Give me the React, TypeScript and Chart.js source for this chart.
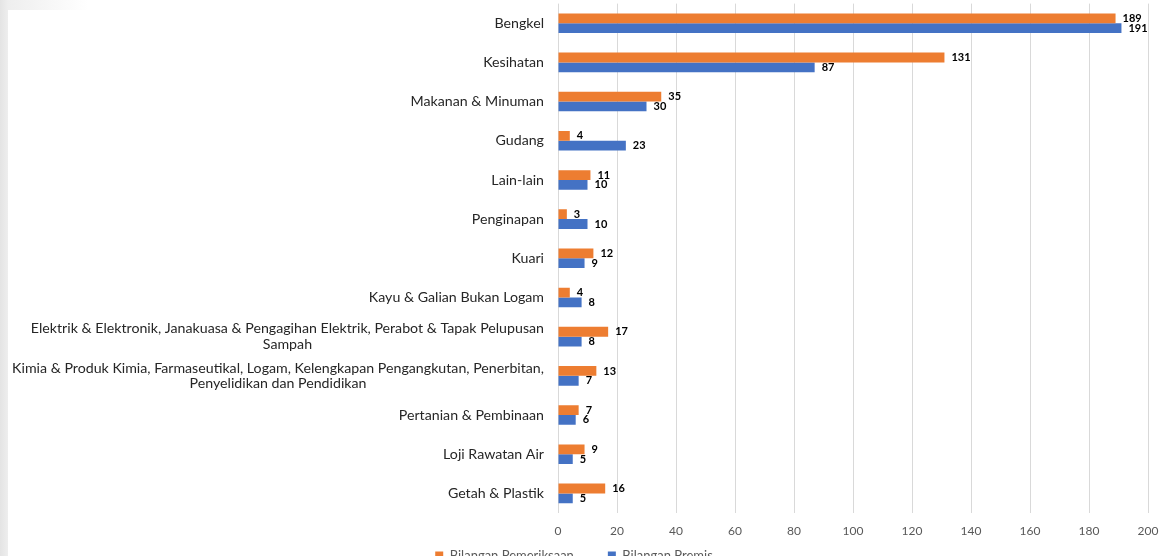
import React, { useEffect, useRef } from "react";
import { Chart, registerables } from "chart.js";

Chart.register(...registerables);

const categories: (string | string[])[] = [
  "Bengkel",
  "Kesihatan",
  "Makanan & Minuman",
  "Gudang",
  "Lain-lain",
  "Penginapan",
  "Kuari",
  "Kayu & Galian Bukan Logam",
  ["Elektrik & Elektronik, Janakuasa & Pengagihan Elektrik, Perabot & Tapak Pelupusan", "Sampah"],
  ["Kimia & Produk Kimia, Farmaseutikal, Logam, Kelengkapan Pengangkutan, Penerbitan,", "Penyelidikan dan Pendidikan"],
  "Pertanian & Pembinaan",
  "Loji Rawatan Air",
  "Getah & Plastik",
];

const pemeriksaan = [189, 131, 35, 4, 11, 3, 12, 4, 17, 13, 7, 9, 16];
const premis = [191, 87, 30, 23, 10, 10, 9, 8, 8, 7, 6, 5, 5];

const seriesNames = ["Bilangan Pemeriksaan", "Bilangan Premis"];
const seriesColors = ["#ED7D31", "#4472C4"];

const xMin = 0;
const xMax = 200;
const xStep = 20;

const FONT = "Lato, 'Open Sans', sans-serif";

const yLabelPlugin = {
  id: "yLabelPlugin",
  afterLayout(chart: any) {
    // let the bottom axis labels draw below its (deliberately short) box
    const x = chart.scales.x;
    x.bottom = x.top + 40;
    x.height = 40;
  },
  afterDraw(chart: any) {
    const scale = chart.scales.y;
    const ctx = chart.ctx;
    ctx.save();
    ctx.font = `14.2px ${FONT}`;
    ctx.fillStyle = "#262626";
    ctx.textBaseline = "middle";
    ctx.textAlign = "center";
    const right = scale.right - 14;
    const lineH = 15.5;
    categories.forEach((lab, i) => {
      const lines = Array.isArray(lab) ? lab : [lab];
      const y = scale.getPixelForTick(i);
      const maxW = Math.max(...lines.map((l) => ctx.measureText(l).width));
      const cx = right - maxW / 2;
      const y0 = y - ((lines.length - 1) * lineH) / 2;
      lines.forEach((l, k) => ctx.fillText(l, cx, y0 + k * lineH));
    });
    ctx.restore();
  },
};

const valueLabelPlugin = {
  id: "valueLabelPlugin",
  afterDatasetsDraw(chart: any) {
    const ctx = chart.ctx;
    ctx.save();
    ctx.font = `bold 11px ${FONT}`;
    ctx.fillStyle = "#000000";
    ctx.textBaseline = "middle";
    ctx.textAlign = "left";
    chart.data.datasets.forEach((ds: any, di: number) => {
      const meta = chart.getDatasetMeta(di);
      meta.data.forEach((el: any, i: number) => {
        ctx.fillText(String(ds.data[i]), el.x + 7, el.y);
      });
    });
    ctx.restore();
  },
};

export default function App() {
  const ref = useRef<HTMLCanvasElement | null>(null);
  useEffect(() => {
    if (!ref.current) return;
    const chart = new Chart(ref.current, {
      type: "bar",
      data: {
        labels: categories.map((c) => (Array.isArray(c) ? c.join(" ") : c)),
        datasets: [
          {
            label: seriesNames[0],
            data: pemeriksaan,
            backgroundColor: seriesColors[0],
            categoryPercentage: 0.5,
            barPercentage: 1,
          },
          {
            label: seriesNames[1],
            data: premis,
            backgroundColor: seriesColors[1],
            categoryPercentage: 0.5,
            barPercentage: 1,
          },
        ],
      },
      options: {
        indexAxis: "y",
        responsive: false,
        animation: false,
        maintainAspectRatio: false,
        layout: { padding: { top: 3, right: 13, bottom: 0, left: 0 } },
        plugins: {
          legend: {
            position: "bottom",
            labels: {
              boxWidth: 8,
              boxHeight: 8,
              color: "#595959",
              font: { family: FONT, size: 13 },
              padding: 34,
            },
          },
          tooltip: { enabled: false },
        },
        scales: {
          x: {
            min: xMin,
            max: xMax,
            ticks: {
              stepSize: xStep,
              color: "#595959",
              font: { family: FONT, size: 12 },
              padding: 11,
            },
            grid: { color: "#d9d9d9", drawTicks: false },
            border: { display: false },
            afterFit(scale: any) {
              scale.height = 2;
              scale.paddingRight = 0;
            },
          },
          y: {
            ticks: { color: "transparent", font: { family: FONT, size: 1 } },
            grid: { display: false, drawTicks: false },
            border: { display: false },
            afterFit(scale: any) {
              scale.width = 558;
            },
          },
        },
      },
      plugins: [yLabelPlugin, valueLabelPlugin],
    });
    return () => chart.destroy();
  }, []);

  return (
    <div
      style={{
        position: "fixed",
        left: 0,
        top: 0,
        width: 1161,
        height: 556,
        overflow: "hidden",
        background: "#ffffff",
      }}
    >
      <canvas ref={ref} width={1161} height={572} style={{ display: "block" }} />
      <div
        style={{
          position: "absolute",
          left: 0,
          top: 0,
          width: 8,
          height: 556,
          background: "linear-gradient(to right, #e4e4e4, #eeeeee)",
        }}
      />
      <div
        style={{
          position: "absolute",
          left: 8,
          top: 0,
          width: 80,
          height: 10,
          background: "linear-gradient(to right, #eeeeee, #ffffff)",
        }}
      />
    </div>
  );
}
